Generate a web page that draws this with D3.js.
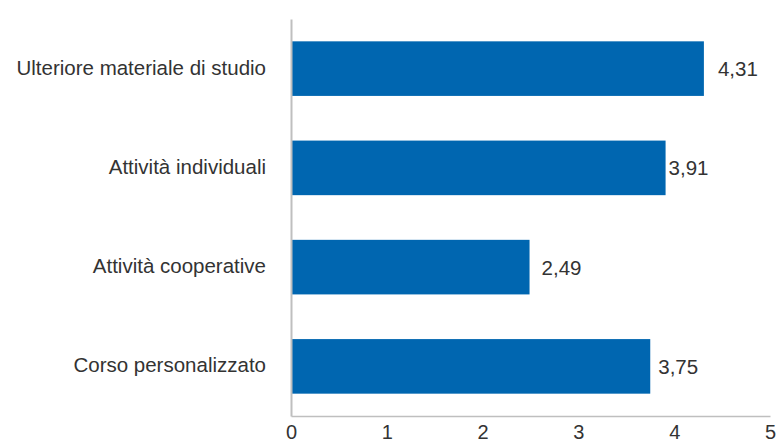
<!DOCTYPE html>
<html>
<head>
<meta charset="utf-8">
<script src="https://cdn.jsdelivr.net/npm/d3@7"></script>
<style>
  body { margin: 0; background: #fff; }
  text { font-family: "Liberation Sans", Arial, sans-serif; fill: #333; }
</style>
</head>
<body>
<svg id="chart" width="776" height="446"></svg>
<script>
var categories = ["Ulteriore materiale di studio", "Attività individuali", "Attività cooperative", "Corso personalizzato"];
var values = [4.31, 3.91, 2.49, 3.75];
var valueLabels = ["4,31", "3,91", "2,49", "3,75"];
var xTicks = [0, 1, 2, 3, 4, 5];

// how far each value label sits from its bar end, as in the original
var labelGap = [14, 3, 12, 8];

var svg = d3.select("#chart"),
  margin = {top: 19, right: 5, bottom: 30, left: 291},
  width = 770 - margin.left,
  height = 416 - margin.top,
  g = svg.append("g").attr("transform", "translate(" + margin.left + "," + margin.top + ")");

var x = d3.scaleLinear().domain([0, 5]).range([0, width]);
var y = d3.scaleBand().domain(categories).range([0, height])
  .paddingInner(0.45).paddingOuter(0.225);

g.selectAll(".bar")
  .data(categories)
  .enter().append("rect")
  .attr("class", "bar")
  .attr("x", 0)
  .attr("y", function(d) { return y(d); })
  .attr("width", function(d, i) { return x(values[i]); })
  .attr("height", y.bandwidth())
  .attr("fill", "#0066b0");

g.selectAll(".val")
  .data(categories)
  .enter().append("text")
  .attr("class", "val")
  .attr("x", function(d, i) { return x(values[i]) + labelGap[i]; })
  .attr("y", function(d) { return y(d) + y.bandwidth() / 2; })
  .attr("dy", "0.36em")
  .style("font-size", "20.5px")
  .text(function(d, i) { return valueLabels[i]; });

// category labels
g.selectAll(".cat")
  .data(categories)
  .enter().append("text")
  .attr("class", "cat")
  .attr("x", -25)
  .attr("y", function(d) { return y(d) + y.bandwidth() / 2 - 1.5; })
  .attr("dy", "0.36em")
  .attr("text-anchor", "end")
  .style("font-size", "20.5px")
  .text(function(d) { return d; });

// bottom axis
var xAxis = g.append("g")
  .attr("transform", "translate(0," + height + ")")
  .call(d3.axisBottom(x).tickValues(xTicks).tickFormat(d3.format("d")).tickSize(0).tickPadding(9));
xAxis.select(".domain").attr("stroke", "#bfbfbf").attr("stroke-width", 1.5);
xAxis.selectAll("text")
  .style("font-size", "20px")
  .style("font-family", "'Liberation Sans', Arial, sans-serif")
  .attr("fill", "#333");

// left axis line
var yAxis = g.append("g")
  .call(d3.axisLeft(y).tickSize(0).tickFormat(""));
yAxis.select(".domain").attr("stroke", "#bfbfbf").attr("stroke-width", 2);
</script>
</body>
</html>
